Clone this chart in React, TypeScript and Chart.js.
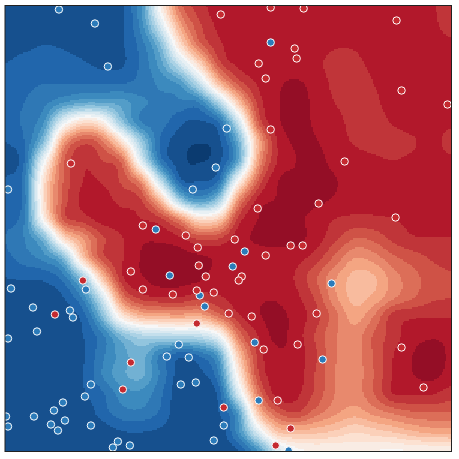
import React, { useEffect, useRef } from "react";
import { Chart, registerables } from "chart.js";

Chart.register(...registerables);

// node positions of the estimated field
const gridX = [4,23,43,62,82,101,121,140,159,179,198,218,237,257,276,295,315,334,354,373,392,412,431,451];
const gridY = [5,24,44,63,83,102,121,141,160,180,199,218,238,257,277,296,315,335,354,374,393,412,432,451];

// estimated colormap position (percent) at each node
const field = [
  [94.5,94.5,94.5,94.5,94.5,94.5,92.5,80,48,22,14,10,10,10,10,10,10,10,10,10,10,10,11.5,14],
  [94.5,94.5,94.5,94.5,94.5,94.5,92.5,82,58,30,17,11,10,10,10,10,10,10,10,10,10,10,11,14],
  [93.5,93,92,92.5,93.5,94.5,92.5,86,72,42,22,13,10,10,10,10,10,11.5,11.5,10,10,10,10,11],
  [92,90.5,90,90.5,91.5,93,92.5,87,78,60,40,18,11,10,10,10,11,13.5,13,11,10,10,10,10],
  [90,89,88,88,88,88,88,86.5,83,79,62,35,19,11.5,8.7,7.5,9.5,13,14,12,10,10,10,10],
  [90,88,85,80,76,76,78,83,85,85,84,65,37,15,8.5,6.5,9,12,14,13,10,10,10,10],
  [90,87,80,55,42,47,70,84,86,91,92.5,87,60,20,9,7,8.5,10.5,13.5,14,11.5,10,10,11],
  [92,88,70,30,18,23,43,68,88,94,95.8,93,75,33,12,7.5,7.8,10,12.5,14,14,12.5,10.5,14],
  [94,88,52,21,13,16,22,56,85,94.5,96.2,93,76,30,12,8,7,9,10,11,12,11,10,11],
  [91.5,85,42,20,12,12.5,17,28,62,90,92,87,50,20,8.5,7.2,6.8,7.8,9.5,10,10,10,10,10],
  [90,86,41,19,11,10.5,13.5,16,35,68,80,68,28,11,7.8,7,7,8.5,10,10,10,10,10,10],
  [89,84,47,19,14,10.5,10.5,12,15,27,42,38,15,8,7,7,9.5,12,13,12.8,12,11,10,10],
  [88,84,72,42,28,17,12.2,8.8,8.8,11,17,16,9.5,7.5,6.5,6.8,10,15,20,19,15,12.5,12.2,12.3],
  [89,86,82,72,37,18,12.3,7.8,6.5,6.8,7,9,9.5,9.5,9.8,10.5,14,21,28,26,21,18,15.5,14],
  [92,91.5,91,86,68,36,13,8.5,6.5,6.5,7.2,10.5,10.5,10,10,12.5,19.5,27.5,33.5,32.5,26,21.5,18,16.5],
  [94,93.5,93.5,92,82,58,24,14,12,12,14,12.5,10,8.6,8.5,11,17,27,33.5,31,25,20.5,17,16.2],
  [95,95,94.5,94,90,72,44,33,31,30,31,22,13,8.5,7,9.5,14.5,22.5,30,24,14.5,12.8,12.5,12.3],
  [95,95,95,94.5,92,85,72,65,64,63,62,52,24,12,7,10,16.5,23.5,26,19.5,14,9.8,8.5,9],
  [95,95,95,95,92.5,85,78,74,84,90,87,76,37,15,9,9.5,15.5,23.5,26,19.5,12.2,8,6.8,8.5],
  [95,95,95,94.5,92,84,77,75,84.5,94,93.5,84,47,17,10,10,16.5,24,26,20,12,8.2,7,9.5],
  [95,95,95,95,92.5,88.5,82,81,87,95,95,90,58,24,10.5,11,17,24,26,20,12,11.5,11.5,14],
  [95,95,95,95,95,90,85.5,85,88.5,95,95,92,78,36,20,16,22,27,30,26.5,23,20.5,20,20],
  [95,95,95,95,95,94.5,92.3,92,93,95,95,95,82,57,37,34,35,37,40,38,36,33,31,31],
  [95,95,95,95,95,95,95,95,95,95,95,95,92,80,60,50,48,48,47,48,49,48,48,47],
];

const redX = [220,70,142,258,294,296,396,401,447,270,265,344,318,257,395,185,197,198,130,205,82,142,172,196,213,54,228,196,130,122,223,234,290,302,265,241,238,316,297,263,401,423,277,290,275,251,270,303];
const redY = [14,163,225,63,48,58,20,90,104,129,78,161,203,208,217,235,247,265,271,276,280,289,294,290,292,314,313,323,362,389,407,239,245,245,255,276,280,313,344,349,347,387,400,428,445,316,7,8];
const blueX = [58,94,107,226,215,192,7,155,270,244,232,169,85,10,199,32,69,72,204,36,7,178,166,188,90,180,195,84,62,53,33,5,7,50,64,57,90,223,213,117,112,129,331,254,322,258,288];
const blueY = [9,23,66,128,167,189,189,229,42,251,266,275,289,288,295,307,310,317,306,331,338,344,356,357,384,384,382,396,402,410,416,416,426,424,420,430,425,425,440,441,447,445,283,342,359,400,450];

const stops: [number, number, number][] = [
  [0x67,0x00,0x1f],[0xb2,0x18,0x2b],[0xd6,0x60,0x4d],[0xf4,0xa5,0x82],[0xfd,0xdb,0xc7],[0xf7,0xf7,0xf7],
  [0xd1,0xe5,0xf0],[0x92,0xc5,0xde],[0x43,0x93,0xc3],[0x21,0x66,0xac],[0x05,0x30,0x61],
];
function rdbu(t: number): [number, number, number] {
  const p = Math.min(0.9999, Math.max(0, t)) * 10;
  const i = Math.floor(p);
  const f = p - i;
  const a = stops[i], b = stops[i + 1];
  return [a[0] + (b[0] - a[0]) * f, a[1] + (b[1] - a[1]) * f, a[2] + (b[2] - a[2]) * f];
}
function cr(a: number, b: number, c: number, d: number, t: number) {
  return 0.5 * (2 * b + (c - a) * t + (2 * a - 5 * b + 4 * c - d) * t * t + (3 * b - a - 3 * c + d) * t * t * t);
}
function locate(axis: number[], v: number): [number, number] {
  let i = 0;
  while (i < axis.length - 2 && axis[i + 1] <= v) i++;
  return [i, (v - axis[i]) / (axis[i + 1] - axis[i])];
}
function sample(x: number, y: number) {
  const [ix, tx] = locate(gridX, x);
  const [iy, ty] = locate(gridY, y);
  const col: number[] = [];
  for (let r = iy - 1; r <= iy + 2; r++) {
    const row = field[Math.max(0, Math.min(field.length - 1, r))];
    const g = (k: number) => row[Math.max(0, Math.min(row.length - 1, k))];
    col.push(cr(g(ix - 1), g(ix), g(ix + 1), g(ix + 2), tx));
  }
  return cr(col[0], col[1], col[2], col[3], ty);
}

const fieldPlugin = {
  id: "fieldPlugin",
  beforeDatasetsDraw(chart: any) {
    const { ctx, chartArea: a, scales } = chart;
    const cell = 1.5;
    const w = Math.ceil((a.right - a.left) / cell);
    const h = Math.ceil((a.bottom - a.top) / cell);
    const off = document.createElement("canvas");
    off.width = w;
    off.height = h;
    const oc = off.getContext("2d")!;
    const img = oc.createImageData(w, h);
    for (let j = 0; j < h; j++) {
      const dy = scales.y.getValueForPixel(a.top + (j + 0.5) * cell);
      for (let i = 0; i < w; i++) {
        const dx = scales.x.getValueForPixel(a.left + (i + 0.5) * cell);
        const v = sample(dx, dy);
        const band = Math.floor(Math.max(0, Math.min(99, v)) / 4) * 4 + 2;
        const c = rdbu(band / 100);
        const k = (j * w + i) * 4;
        img.data[k] = c[0];
        img.data[k + 1] = c[1];
        img.data[k + 2] = c[2];
        img.data[k + 3] = 255;
      }
    }
    oc.putImageData(img, 0, 0);
    ctx.save();
    ctx.beginPath();
    ctx.rect(a.left, a.top, a.right - a.left, a.bottom - a.top);
    ctx.clip();
    ctx.imageSmoothingEnabled = false;
    ctx.drawImage(off, a.left, a.top, w * cell, h * cell);
    ctx.restore();
  },
  afterDatasetsDraw(chart: any) {
    const { ctx, chartArea: a } = chart;
    ctx.save();
    ctx.strokeStyle = "#222222";
    ctx.lineWidth = 1;
    ctx.strokeRect(a.left, a.top, a.right - a.left, a.bottom - a.top);
    ctx.restore();
  },
};

const pts = (xs: number[], ys: number[]) => xs.map((x, i) => ({ x, y: ys[i] }));

export default function App() {
  const ref = useRef<HTMLCanvasElement>(null);
  useEffect(() => {
    const chart = new Chart(ref.current!, {
      type: "scatter",
      data: {
        datasets: [
          { label: "red", data: pts(redX, redY), backgroundColor: "#c52a30", borderColor: "#ffffff", borderWidth: 1, pointRadius: 3.7 },
          { label: "blue", data: pts(blueX, blueY), backgroundColor: "#2b7bba", borderColor: "#ffffff", borderWidth: 1, pointRadius: 3.7 },
        ],
      },
      options: {
        animation: false,
        responsive: false,
        layout: { padding: { left: 4.5, top: 5.5, right: 7.5, bottom: 7.5 } },
        plugins: { legend: { display: false }, tooltip: { enabled: false } },
        scales: {
          x: { type: "linear", min: 4, max: 451, display: false },
          y: { type: "linear", min: 5, max: 451, reverse: true, display: false },
        },
      },
      plugins: [fieldPlugin],
    } as any);
    return () => chart.destroy();
  }, []);
  return (
    <div style={{ position: "fixed", left: 0, top: 0, width: 459, height: 459, background: "#fff" }}>
      <canvas ref={ref} width={459} height={459} style={{ display: "block" }} />
    </div>
  );
}
